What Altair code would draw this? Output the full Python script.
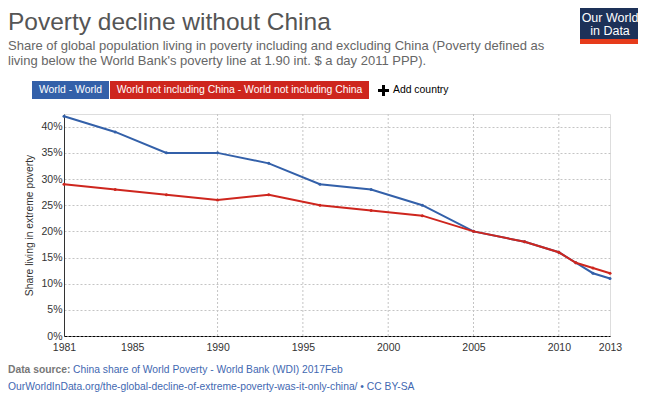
import altair as alt
import pandas as pd

# ---- data ----
years = [1981, 1984, 1987, 1990, 1993, 1996, 1999, 2002, 2005, 2008, 2010, 2011, 2012, 2013]
world = [42, 39, 35, 35, 33, 29, 28, 25, 20, 18, 16, 14, 12, 11]
world_ex_china = [29, 28, 27, 26, 27, 25, 24, 23, 20, 18, 16, 14, 13, 12]

x_tick_values = [1981, 1985, 1990, 1995, 2000, 2005, 2010, 2013]
x_grid_values = [1990, 1995, 2000, 2005, 2010]
y_tick_values = [0, 0.05, 0.10, 0.15, 0.20, 0.25, 0.30, 0.35, 0.40]

series_names = ["World", "World not including China"]
series_colors = ["#3360a9", "#ce261e"]

title_text = "Poverty decline without China"
subtitle_1 = "Share of global population living in poverty including and excluding China (Poverty defined as"
subtitle_2 = "living below the World Bank's poverty line at 1.90 int. $ a day 2011 PPP)."
legend_1 = "World - World"
legend_2 = "World not including China - World not including China"
add_country = "Add country"
source_label = "Data source:"
source_text = "China share of World Poverty - World Bank (WDI) 2017Feb"
url_text = "OurWorldInData.org/the-global-decline-of-extreme-poverty-was-it-only-china/ \u2022 CC BY-SA"

FONT = "Liberation Sans"

df_world = pd.DataFrame({"year": years, "share": [v / 100 for v in world], "entity": series_names[0]})
df_ex = pd.DataFrame({"year": years, "share": [v / 100 for v in world_ex_china], "entity": series_names[1]})

x_scale = alt.Scale(domain=[1981, 2013], nice=False, zero=False)
y_scale = alt.Scale(domain=[0, 0.4243], nice=False, zero=True)

x_axis = alt.Axis(values=x_tick_values, format="d", grid=False, tickSize=0, labelPadding=6,
                  labelFontSize=10.5, labelColor="#333", labelFont=FONT, labelOverlap=False,
                  labelFlush=False, domainColor="#000", domainDash=[3, 1], domainWidth=1, title=None)
y_axis = alt.Axis(values=y_tick_values, format=".0%", grid=True, gridDash=[2, 2], gridColor="#c4c4c4",
                  tickSize=0, labelPadding=2, labelFontSize=10.5, labelColor="#333", labelFont=FONT,
                  domainColor="#333", domainWidth=1, title="Share living in extreme poverty",
                  titleFont=FONT, titleFontSize=10.3, titleFontWeight="normal", titleColor="#333",
                  titlePadding=6)

color_scale = alt.Scale(domain=series_names, range=series_colors)

vgrid = alt.Chart(pd.DataFrame({"year": x_grid_values})).mark_rule(
    strokeDash=[2, 2], color="#c4c4c4", strokeWidth=1
).encode(x=alt.X("year:Q", scale=x_scale, axis=x_axis))

def series_layer(df):
    return alt.Chart(df).mark_line(
        strokeWidth=2,
        point=alt.OverlayMarkDef(filled=True, size=9),
    ).encode(
        x=alt.X("year:Q", scale=x_scale, axis=x_axis),
        y=alt.Y("share:Q", scale=y_scale, axis=y_axis),
        color=alt.Color("entity:N", scale=color_scale, legend=None),
    )

line_world = series_layer(df_world)
line_ex = series_layer(df_ex)

one = pd.DataFrame({"a": [0]})

def text(t, x, y, size, color, weight="normal", align="left", baseline="alphabetic", font=FONT):
    return alt.Chart(one).mark_text(
        text=t, align=align, baseline=baseline, fontSize=size, color=color,
        fontWeight=weight, font=font
    ).encode(x=alt.value(x), y=alt.value(y))

def rect(x1, x2, y1, y2, color):
    return alt.Chart(one).mark_rect(color=color).encode(
        x=alt.value(x1), x2=alt.value(x2), y=alt.value(y1), y2=alt.value(y2))

# offsets: plot area origin at absolute (64, 114)
OX, OY = 64, 114

decor = [
    text(title_text, 8 - OX, 30 - OY, 24.5, "#555"),
    text(subtitle_1, 8 - OX, 50 - OY, 13, "#666"),
    text(subtitle_2, 8 - OX, 65 - OY, 13, "#666"),
    rect(32 - OX, 109 - OX, 81 - OY, 99 - OY, series_colors[0]),
    rect(110 - OX, 369 - OX, 81 - OY, 99 - OY, series_colors[1]),
    text(legend_1, 70.5 - OX, 90 - OY, 10.4, "#fff", align="center", baseline="middle"),
    text(legend_2, 239.5 - OX, 90 - OY, 10.4, "#fff", align="center", baseline="middle"),
    rect(378 - OX, 389 - OX, 89 - OY, 92 - OY, "#000"),
    rect(382 - OX, 385 - OX, 85 - OY, 96 - OY, "#000"),
    text(add_country, 393 - OX, 90 - OY, 10.4, "#000", baseline="middle"),
    rect(580 - OX, 640 - OX, 7 - OY, 39 - OY, "#1d3158"),
    rect(580 - OX, 640 - OX, 39 - OY, 44 - OY, "#e63b1b"),
    text("Our World", 610 - OX, 17.5 - OY, 12.5, "#fff", align="center", baseline="middle"),
    text("in Data", 610 - OX, 30.5 - OY, 12.5, "#fff", align="center", baseline="middle"),
    text(source_label, 8 - OX, 370 - OY, 10.3, "#777", weight="bold", baseline="middle"),
    text(source_text, 73 - OX, 370 - OY, 10.3, "#3f68b1", baseline="middle"),
    text(url_text, 8 - OX, 387 - OY, 10.3, "#3f68b1", baseline="middle"),
]

chart = alt.layer(vgrid, line_world, line_ex, *decor).properties(
    width=546, height=222,
    autosize=alt.AutoSizeParams(type="none"),
    padding={"left": 56, "top": 106, "right": 28, "bottom": 60},
).configure_view(stroke=None).configure(background="#ffffff")

chart.save("out.html", embed_options={"renderer": "svg", "actions": False})
